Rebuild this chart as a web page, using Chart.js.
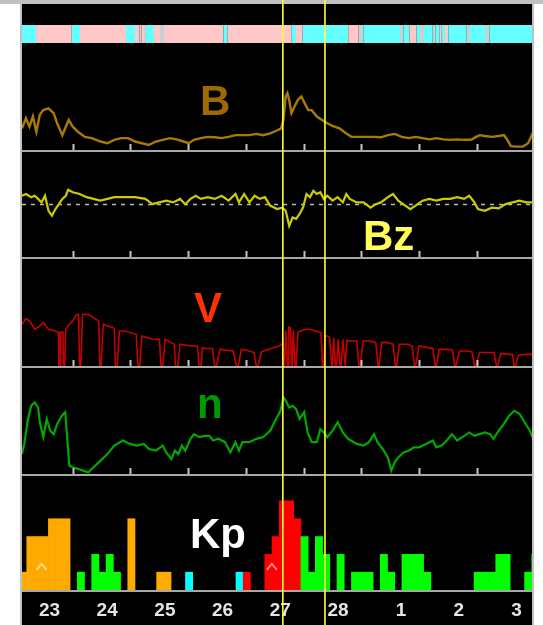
<!DOCTYPE html>
<html>
<head>
<meta charset="utf-8">
<script src="https://cdn.jsdelivr.net/npm/chart.js@4"></script>
<style>
  html, body { margin: 0; padding: 0; background: #fff; }
  canvas { display: block; }
</style>
</head>
<body>
<canvas id="swChart" width="543" height="625"></canvas>
<script>
// time is counted in days from 23 Feb 00 UT
const tStart = 0.121;
const tEnd = 8.957;
const dayNames = ['23', '24', '25', '26', '27', '28', '1', '2', '3'];
const dayLabelAt = [0.78, 1.78, 2.78, 3.78, 4.78, 5.78, 6.78, 7.78, 8.78];
const midnightTicks = [1, 2, 3, 4, 5, 6, 7, 8];
const shockTimes = [4.64, 5.37];

// IMF sector polarity: A = away (pink), T = toward (cyan), U = unclear
const sectorEdges = [0.1, 0.364, 0.982, 1.126, 1.923, 2.079, 2.153, 2.195, 2.235, 2.270, 2.408, 2.512, 2.581, 3.609, 3.678, 4.794, 4.868, 4.984, 5.774, 5.948, 6.034, 6.670, 6.727, 6.831, 6.959, 7.017, 7.086, 7.237, 7.282, 7.351, 7.393, 7.450, 7.507, 7.826, 7.883, 8.143, 8.217, 9.0];
const sectorState = ['T', 'A', 'T', 'A', 'T', 'A', 'U', 'A', 'U', 'T', 'A', 'U', 'A', 'T', 'A', 'T', 'A', 'T', 'A', 'U', 'T', 'U', 'T', 'A', 'T', 'U', 'T', 'U', 'T', 'A', 'T', 'A', 'T', 'U', 'T', 'U', 'T'];

// |B| (nT)
const bTime = [0.12, 0.19, 0.25, 0.31, 0.37, 0.43, 0.49, 0.58, 0.67, 0.73, 0.82, 0.88, 0.93, 1.00, 1.09, 1.21, 1.33, 1.48, 1.60, 1.72, 1.84, 1.96, 2.08, 2.20, 2.32, 2.44, 2.56, 2.68, 2.80, 2.92, 3.01, 3.10, 3.22, 3.34, 3.46, 3.58, 3.70, 3.82, 3.94, 4.06, 4.18, 4.30, 4.42, 4.54, 4.61, 4.65, 4.69, 4.72, 4.75, 4.79, 4.84, 4.90, 4.96, 5.02, 5.08, 5.14, 5.23, 5.32, 5.41, 5.50, 5.62, 5.74, 5.83, 5.98, 6.10, 6.22, 6.34, 6.46, 6.58, 6.70, 6.82, 6.94, 7.06, 7.18, 7.30, 7.42, 7.54, 7.66, 7.78, 7.90, 7.99, 8.05, 8.14, 8.26, 8.38, 8.47, 8.53, 8.59, 8.68, 8.80, 8.89, 8.98];
const bVal = [5.1, 7.5, 5.5, 7.9, 4.3, 8.3, 9.4, 9.8, 8.7, 6.3, 3.5, 5.5, 7.1, 5.5, 4.3, 3.1, 2.8, 2.0, 1.6, 2.4, 2.8, 2.8, 2.0, 1.6, 1.2, 2.0, 2.4, 2.8, 2.5, 2.0, 1.6, 2.4, 2.8, 3.1, 3.0, 2.8, 3.1, 3.5, 3.5, 3.5, 3.8, 3.5, 3.9, 4.6, 5.1, 7.1, 12.6, 13.4, 11.8, 8.7, 10.2, 11.8, 12.6, 11.0, 9.4, 9.4, 7.9, 7.1, 6.3, 5.7, 5.1, 3.9, 3.1, 3.1, 3.1, 3.1, 3.0, 3.5, 3.8, 3.1, 2.8, 3.1, 2.8, 2.5, 2.8, 2.5, 2.4, 2.5, 2.4, 2.4, 3.1, 3.5, 3.3, 3.1, 3.3, 3.5, 2.4, 0.9, 0.8, 0.8, 1.6, 4.3];

// Bz (nT)
const bzTime = [0.12, 0.19, 0.28, 0.34, 0.40, 0.46, 0.52, 0.58, 0.64, 0.70, 0.76, 0.82, 0.88, 0.92, 1.00, 1.12, 1.24, 1.36, 1.48, 1.60, 1.72, 1.90, 2.08, 2.26, 2.38, 2.50, 2.62, 2.74, 2.86, 2.95, 3.04, 3.13, 3.22, 3.34, 3.46, 3.58, 3.70, 3.82, 3.88, 3.97, 4.06, 4.15, 4.24, 4.33, 4.42, 4.54, 4.63, 4.69, 4.75, 4.81, 4.87, 4.93, 4.99, 5.05, 5.11, 5.17, 5.23, 5.29, 5.35, 5.41, 5.50, 5.59, 5.68, 5.74, 5.80, 5.92, 6.04, 6.16, 6.25, 6.34, 6.46, 6.55, 6.64, 6.76, 6.85, 6.94, 7.06, 7.18, 7.30, 7.42, 7.54, 7.66, 7.78, 7.87, 7.96, 8.02, 8.14, 8.26, 8.38, 8.50, 8.62, 8.74, 8.86, 8.98];
const bzVal = [2.5, 3.0, 2.1, 2.5, 1.6, 0.6, 2.5, -1.8, -3.2, -1.3, 0.1, 1.6, 2.5, 4.2, 3.5, 3.0, 2.1, 1.6, 1.1, 1.6, 2.1, 2.1, 2.1, 1.6, 0.1, 0.6, 1.1, 0.6, 1.6, 0.1, 1.6, 2.5, 1.6, 2.1, 1.6, 2.5, 1.1, 3.0, 0.6, 3.0, 0.6, 2.5, 1.6, 2.1, -0.3, -1.3, -0.9, -1.8, -6.1, -3.7, -4.1, -2.7, -0.9, 3.0, 2.1, 3.9, 3.0, 3.5, 1.6, 2.5, 1.1, 2.1, 0.6, 3.0, 1.6, 0.6, 0.6, -0.9, 0.1, 0.6, 2.1, 3.0, 1.1, -0.3, -1.3, -0.3, 1.1, 1.6, 1.1, 1.6, 1.6, 2.1, 1.6, 2.5, 0.6, -1.3, -1.8, -0.9, -1.1, 0.1, 0.6, 1.1, 0.6, 0.6];

// solar wind speed (km/s); data gaps drop to the panel floor (200)
const vTime = [0.12, 0.19, 0.25, 0.34, 0.43, 0.49, 0.58, 0.70, 0.75, 0.76, 0.78, 0.79, 0.83, 0.84, 0.86, 0.88, 0.94, 1.00, 1.05, 1.10, 1.12, 1.14, 1.17, 1.20, 1.30, 1.40, 1.45, 1.47, 1.49, 1.53, 1.60, 1.70, 1.72, 1.74, 1.77, 1.81, 1.90, 2.00, 2.10, 2.13, 2.16, 2.20, 2.30, 2.40, 2.50, 2.53, 2.56, 2.60, 2.70, 2.76, 2.78, 2.82, 2.86, 2.95, 3.04, 3.16, 3.19, 3.22, 3.25, 3.30, 3.42, 3.46, 3.49, 3.55, 3.65, 3.78, 3.84, 3.87, 3.92, 4.00, 4.14, 4.18, 4.21, 4.27, 4.35, 4.45, 4.55, 4.62, 4.64, 4.66, 4.67, 4.69, 4.72, 4.73, 4.74, 4.77, 4.79, 4.80, 4.82, 4.85, 4.87, 4.90, 4.95, 5.05, 5.12, 5.20, 5.30, 5.33, 5.35, 5.37, 5.42, 5.45, 5.49, 5.50, 5.52, 5.55, 5.57, 5.60, 5.63, 5.65, 5.68, 5.72, 5.73, 5.75, 5.80, 5.92, 5.96, 5.98, 6.03, 6.15, 6.25, 6.29, 6.31, 6.35, 6.45, 6.55, 6.59, 6.61, 6.66, 6.80, 6.88, 6.92, 6.94, 7.00, 7.15, 7.24, 7.28, 7.30, 7.35, 7.50, 7.58, 7.62, 7.64, 7.70, 7.85, 7.92, 7.96, 7.98, 8.05, 8.20, 8.30, 8.34, 8.36, 8.42, 8.55, 8.62, 8.65, 8.67, 8.72, 8.85, 8.98];
const vVal = [436, 468, 455, 408, 426, 446, 408, 398, 392, 200, 200, 390, 392, 200, 200, 408, 436, 455, 483, 493, 200, 200, 493, 493, 488, 464, 455, 200, 200, 436, 426, 417, 408, 200, 200, 398, 398, 389, 379, 200, 200, 370, 360, 351, 351, 200, 200, 351, 332, 323, 200, 200, 323, 318, 313, 313, 200, 200, 304, 299, 299, 200, 200, 295, 290, 285, 200, 200, 294, 290, 276, 200, 200, 280, 290, 300, 310, 320, 340, 200, 200, 400, 200, 200, 420, 417, 200, 200, 400, 200, 200, 390, 398, 408, 408, 398, 389, 200, 200, 370, 370, 360, 200, 200, 360, 200, 200, 351, 200, 200, 351, 200, 200, 345, 341, 341, 200, 200, 341, 341, 332, 200, 200, 332, 332, 323, 200, 200, 323, 323, 313, 200, 200, 313, 304, 299, 200, 200, 294, 294, 290, 200, 200, 285, 285, 280, 200, 200, 276, 276, 276, 200, 200, 271, 266, 266, 200, 200, 260, 266, 266];

// proton density (cm^-3)
const nTime = [0.12, 0.16, 0.22, 0.28, 0.34, 0.40, 0.43, 0.49, 0.55, 0.61, 0.67, 0.73, 0.81, 0.87, 0.91, 0.94, 1.00, 1.09, 1.18, 1.27, 1.36, 1.48, 1.60, 1.72, 1.87, 1.99, 2.11, 2.23, 2.32, 2.44, 2.56, 2.62, 2.71, 2.77, 2.83, 2.89, 2.95, 3.04, 3.10, 3.19, 3.28, 3.37, 3.43, 3.52, 3.64, 3.73, 3.82, 3.88, 3.94, 4.06, 4.18, 4.30, 4.42, 4.51, 4.60, 4.65, 4.69, 4.75, 4.81, 4.87, 4.93, 5.01, 5.07, 5.14, 5.23, 5.29, 5.35, 5.41, 5.50, 5.59, 5.68, 5.77, 5.92, 6.04, 6.13, 6.22, 6.28, 6.37, 6.46, 6.52, 6.58, 6.64, 6.73, 6.82, 6.91, 7.00, 7.12, 7.24, 7.30, 7.39, 7.48, 7.57, 7.66, 7.75, 7.87, 7.96, 8.05, 8.14, 8.23, 8.29, 8.38, 8.47, 8.56, 8.65, 8.74, 8.83, 8.92, 8.98];
const nVal = [4.7, 7.1, 12.6, 16.1, 16.9, 15.7, 12.2, 8.7, 13.0, 10.2, 9.4, 11.8, 13.7, 14.6, 7.5, 2.0, 1.6, 1.2, 0.8, 0.4, 1.6, 3.1, 4.7, 6.7, 7.9, 7.1, 6.7, 7.1, 5.9, 5.5, 6.7, 5.1, 3.5, 5.5, 4.7, 6.7, 5.5, 8.3, 9.4, 8.7, 9.0, 9.0, 7.9, 8.3, 7.5, 5.1, 7.5, 5.5, 7.5, 7.5, 8.3, 8.7, 10.2, 12.6, 14.9, 18.1, 17.3, 15.7, 16.1, 15.3, 13.0, 14.6, 9.8, 7.5, 7.5, 10.6, 9.8, 8.7, 10.2, 12.2, 9.8, 8.3, 7.1, 6.7, 7.5, 9.4, 7.5, 5.9, 3.9, 0.8, 2.8, 3.9, 5.1, 5.5, 6.3, 6.3, 7.1, 7.9, 6.3, 6.7, 7.9, 9.4, 7.9, 8.7, 9.8, 9.0, 9.4, 9.8, 9.4, 8.3, 10.2, 11.8, 13.7, 14.9, 14.2, 12.2, 10.2, 8.3];

// 3-hourly Kp bars (bin centres), level and source class
const kpTime = [0.141, 0.266, 0.391, 0.516, 0.641, 0.766, 0.891, 1.141, 1.391, 1.516, 1.641, 1.766, 2.016, 2.516, 2.641, 3.016, 3.891, 4.016, 4.391, 4.516, 4.641, 4.766, 4.891, 5.016, 5.141, 5.266, 5.391, 5.641, 5.891, 6.016, 6.141, 6.391, 6.516, 6.766, 6.891, 7.016, 7.141, 8.016, 8.141, 8.266, 8.391, 8.516, 8.891, 9.016];
const kpLevel = [1, 3, 3, 3, 4, 4, 4, 1, 2, 1, 2, 1, 4, 1, 1, 1, 1, 1, 2, 3, 5, 5, 4, 3, 1, 3, 2, 2, 1, 1, 1, 2, 1, 2, 2, 2, 1, 1, 1, 1, 2, 2, 1, 2];
const kpClass = ['O', 'O', 'O', 'O', 'O', 'O', 'O', 'G', 'G', 'G', 'G', 'G', 'O', 'O', 'O', 'C', 'C', 'R', 'R', 'R', 'R', 'R', 'R', 'G', 'G', 'G', 'G', 'G', 'G', 'G', 'G', 'G', 'G', 'G', 'G', 'G', 'G', 'G', 'G', 'G', 'G', 'G', 'G', 'G'];
const kpMarkTime = [0.46, 4.45];
const kpMarkLevel = [1.3, 1.3];

const sectorColors = { A: '#ffc8c8', T: '#66ffff', U: '#c8d2d2' };
const kpColors = { O: '#ffaa00', G: '#00ff00', R: '#ff0000', C: '#00ffff' };
const fontFamily = '"Liberation Sans", Arial, sans-serif';

const panelLabels = [
  { text: 'B', color: '#9e6a00', x: 200, y: 115 },
  { text: 'Bz', color: '#ffff55', x: 363, y: 250 },
  { text: 'V', color: '#ff3300', x: 194, y: 322 },
  { text: 'n', color: '#009900', x: 197, y: 418 },
  { text: 'Kp', color: '#ffffff', x: 190, y: 548 }
];

const pairs = (xs, ys) => xs.map((x, i) => ({ x: x, y: ys[i] }));

const gapIds = ['g1', 'g2', 'g3', 'g4', 'g5'];
const tickPanels = ['yB', 'yBz', 'yV', 'yN'];

const framePlugin = {
  id: 'frame',
  beforeDraw(chart) {
    const { ctx, chartArea: a, width, height } = chart;
    ctx.save();
    ctx.fillStyle = '#ffffff';
    ctx.fillRect(0, 0, width, height);
    ctx.fillStyle = '#000000';
    ctx.fillRect(a.left, a.top, a.right - a.left, height - a.top);
    ctx.fillStyle = '#c0c0c0';
    ctx.fillRect(0, 0, width, a.top);
    ctx.fillRect(a.left - 2, a.top, 2, height - a.top);
    ctx.fillRect(a.right, a.top, 2, height - a.top);
    ctx.restore();
  },
  afterDatasetsDraw(chart) {
    const { ctx, chartArea: a, height } = chart;
    const xs = chart.scales.x;
    ctx.save();

    // grey separators between the panels
    ctx.fillStyle = '#a8a8a8';
    gapIds.forEach(id => {
      const s = chart.scales[id];
      ctx.fillRect(a.left, s.top, a.right - a.left, s.bottom - s.top);
    });

    // day ticks along the bottom of each panel
    ctx.strokeStyle = '#c4c4c4';
    ctx.lineWidth = 2;
    tickPanels.forEach(id => {
      const s = chart.scales[id];
      midnightTicks.forEach(d => {
        const px = Math.round(xs.getPixelForValue(d)) + 0.5;
        ctx.beginPath();
        ctx.moveTo(px, s.bottom);
        ctx.lineTo(px, s.bottom - 6);
        ctx.stroke();
      });
    });

    // carets on the Kp bars
    const kp = chart.scales.yKp;
    ctx.strokeStyle = 'rgba(255,255,255,0.55)';
    ctx.lineWidth = 2;
    kpMarkTime.forEach((t, i) => {
      const cx = xs.getPixelForValue(t);
      const cy = kp.getPixelForValue(kpMarkLevel[i]);
      ctx.beginPath();
      ctx.moveTo(cx - 5, cy + 3);
      ctx.lineTo(cx, cy - 3);
      ctx.lineTo(cx + 5, cy + 3);
      ctx.stroke();
    });

    // panel names
    ctx.font = 'bold 42px ' + fontFamily;
    ctx.textBaseline = 'alphabetic';
    panelLabels.forEach(l => {
      ctx.fillStyle = l.color;
      ctx.fillText(l.text, l.x, l.y);
    });

    // shock / event markers through the whole plot
    ctx.strokeStyle = '#ffff3c';
    ctx.lineWidth = 1.6;
    shockTimes.forEach(t => {
      const px = xs.getPixelForValue(t);
      ctx.beginPath();
      ctx.moveTo(px, 0);
      ctx.lineTo(px, height);
      ctx.stroke();
    });
    ctx.restore();
  }
};

function panelAxis(weight, stackWeight, min, max) {
  return { type: 'linear', axis: 'y', position: 'left', display: false, stack: 'panels', weight, stackWeight, min, max };
}

new Chart(document.getElementById('swChart'), {
  type: 'line',
  data: {
    datasets: [
      {
        type: 'bar',
        indexAxis: 'y',
        xAxisID: 'xs',
        yAxisID: 'sector',
        data: sectorState.map((s, i) => ({ x: [sectorEdges[i], sectorEdges[i + 1]], y: 'IMF' })),
        backgroundColor: sectorState.map(s => sectorColors[s]),
        borderWidth: 0,
        grouped: false,
        categoryPercentage: 0.9,
        barPercentage: 1
      },
      {
        xAxisID: 'x', yAxisID: 'yB',
        data: pairs(bTime, bVal),
        borderColor: '#a87c00', borderWidth: 2.4, pointRadius: 0, tension: 0
      },
      {
        xAxisID: 'x', yAxisID: 'yBz',
        data: pairs(bzTime, bzVal),
        borderColor: '#cccc00', borderWidth: 2.2, pointRadius: 0, tension: 0
      },
      {
        xAxisID: 'x', yAxisID: 'yBz',
        data: [{ x: tStart, y: 0 }, { x: tEnd, y: 0 }],
        borderColor: '#b8b8b8', borderWidth: 1.5, borderDash: [4, 5], pointRadius: 0
      },
      {
        xAxisID: 'x', yAxisID: 'yV',
        data: pairs(vTime, vVal),
        borderColor: '#c80000', borderWidth: 1.6, pointRadius: 0, tension: 0
      },
      {
        xAxisID: 'x', yAxisID: 'yN',
        data: pairs(nTime, nVal),
        borderColor: '#00a800', borderWidth: 2.2, pointRadius: 0, tension: 0
      },
      {
        type: 'bar',
        xAxisID: 'x', yAxisID: 'yKp',
        data: pairs(kpTime, kpLevel),
        backgroundColor: kpClass.map(c => kpColors[c]),
        borderWidth: 0,
        grouped: false,
        categoryPercentage: 1,
        barPercentage: 1
      }
    ]
  },
  options: {
    responsive: false,
    devicePixelRatio: 1,
    animation: false,
    events: [],
    layout: { padding: { left: 22, right: 11, top: 4, bottom: 0 } },
    plugins: { legend: { display: false }, tooltip: { enabled: false } },
    scales: {
      x: {
        type: 'linear', axis: 'x', position: 'bottom', min: tStart, max: tEnd, offset: false,
        grid: { display: false, drawTicks: false },
        border: { display: false },
        ticks: {
          autoSkip: false, maxRotation: 0, minRotation: 0, align: 'end', padding: 7,
          color: '#e4e4e4',
          font: { family: fontFamily, size: 19, weight: 'bold' },
          callback: (v, i) => dayNames[i]
        },
        afterBuildTicks: s => { s.ticks = dayLabelAt.map(v => ({ value: v })); },
        afterFit: s => { s.height = 33; }
      },
      xs: { type: 'linear', axis: 'x', position: 'bottom', display: false, min: tStart, max: tEnd, offset: false },
      g0: panelAxis(13, 20, 0, 1),
      sector: { type: 'category', axis: 'y', position: 'left', display: false, labels: ['IMF'], offset: true, stack: 'panels', weight: 12, stackWeight: 20 },
      yB: panelAxis(11, 106, 0, 25),
      g1: panelAxis(10, 2, 0, 1),
      yBz: panelAxis(9, 105, -15, 15),
      g2: panelAxis(8, 2, 0, 1),
      yV: panelAxis(7, 107, 200, 805),
      g3: panelAxis(6, 2, 0, 1),
      yN: panelAxis(5, 106, 0, 25),
      g4: panelAxis(4, 2, 0, 1),
      yKp: panelAxis(3, 114, 0, 6.4),
      g5: panelAxis(2, 2, 0, 1)
    }
  },
  plugins: [framePlugin]
});
</script>
</body>
</html>
